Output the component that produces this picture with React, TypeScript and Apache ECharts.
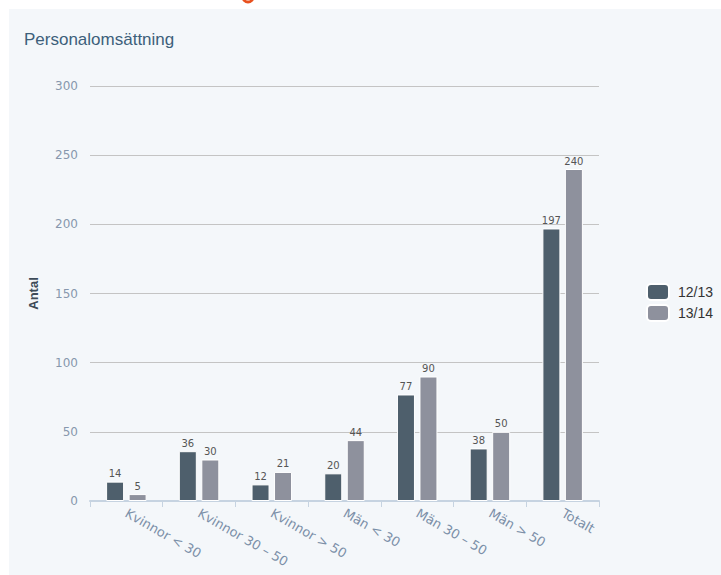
import React, { useEffect, useRef } from "react";
import * as echarts from "echarts";

const categories = ["Kvinnor < 30", "Kvinnor 30 – 50", "Kvinnor > 50", "Män < 30", "Män 30 – 50", "Män > 50", "Totalt"];
const series1213 = [14, 36, 12, 20, 77, 38, 197];
const series1314 = [5, 30, 21, 44, 90, 50, 240];
const seriesNames = ["12/13", "13/14"];
const yTicks = { min: 0, max: 300, interval: 50 };

export default function App() {
  const ref = useRef<HTMLDivElement>(null);
  useEffect(() => {
    document.body.style.margin = "0";
    document.body.style.background = "#f4f7fa";
    document.documentElement.style.background = "#f4f7fa";
    const chart = echarts.init(ref.current!, null, { renderer: "svg" });
    const labelStyle = {
      show: true,
      position: "top",
      distance: 3,
      fontFamily: "DejaVu Sans",
      fontSize: 10,
      color: "#555",
    };
    chart.setOption({
      animation: false,
      backgroundColor: "#f4f7fa",
      graphic: [
        { type: "rect", z: -10, silent: true, shape: { x: 0, y: 0, width: 721, height: 9 }, style: { fill: "#ffffff" } },
        { type: "rect", z: -10, silent: true, shape: { x: 0, y: 0, width: 9, height: 575 }, style: { fill: "#ffffff" } },
        { type: "arc", silent: true, shape: { cx: 248, cy: -3, r: 5, startAngle: 0, endAngle: Math.PI }, style: { stroke: "#e8511f", lineWidth: 3, fill: "none" } },
      ],
      title: {
        text: "Personalomsättning",
        left: 24,
        top: 31,
        padding: 0,
        textStyle: { fontFamily: "Liberation Sans", fontSize: 17, fontWeight: "normal", color: "#3d5f7a" },
      },
      legend: {
        orient: "vertical",
        left: 646,
        top: 283,
        padding: 0,
        itemWidth: 22,
        itemHeight: 16,
        itemGap: 3,
        icon: "roundRect",
        data: seriesNames,
        textStyle: { fontFamily: "Liberation Sans", fontSize: 14, color: "#333", padding: [0, 0, 0, 4] },
      },
      grid: { left: 90, right: 122, top: 86, bottom: 74, containLabel: false },
      xAxis: {
        type: "category",
        data: categories,
        axisLine: { lineStyle: { color: "#c6d3e1", width: 2 } },
        axisTick: { show: true, length: 6, lineStyle: { color: "#c6d3e1", width: 1 } },
        axisLabel: {
          rotate: -30,
          interval: 0,
          margin: 11,
          fontFamily: "DejaVu Sans",
          fontSize: 13,
          color: "#7b8fa8",
        },
      },
      yAxis: {
        type: "value",
        min: yTicks.min,
        max: yTicks.max,
        interval: yTicks.interval,
        name: "Antal",
        nameLocation: "middle",
        nameRotate: 90,
        nameGap: 50,
        nameTextStyle: { fontFamily: "Liberation Sans", fontSize: 13, fontWeight: "bold", color: "#3d4b58" },
        axisLine: { show: false },
        axisTick: { show: false },
        axisLabel: { margin: 12, fontFamily: "DejaVu Sans", fontSize: 12, color: "#8797ad" },
        splitLine: { lineStyle: { color: "#c4c4c4", width: 1 } },
      },
      series: [
        {
          name: seriesNames[0],
          type: "bar",
          data: series1213,
          barWidth: 18,
          barGap: "25%",
          itemStyle: { color: "#4e5f6c", borderColor: "#ffffff", borderWidth: 1 },
          label: labelStyle,
        },
        {
          name: seriesNames[1],
          type: "bar",
          data: series1314,
          barWidth: 18,
          barGap: "25%",
          itemStyle: { color: "#8e919d", borderColor: "#ffffff", borderWidth: 1 },
          label: labelStyle,
        },
      ],
    });
    return () => chart.dispose();
  }, []);
  return <div ref={ref} style={{ width: 721, height: 575 }} />;
}
